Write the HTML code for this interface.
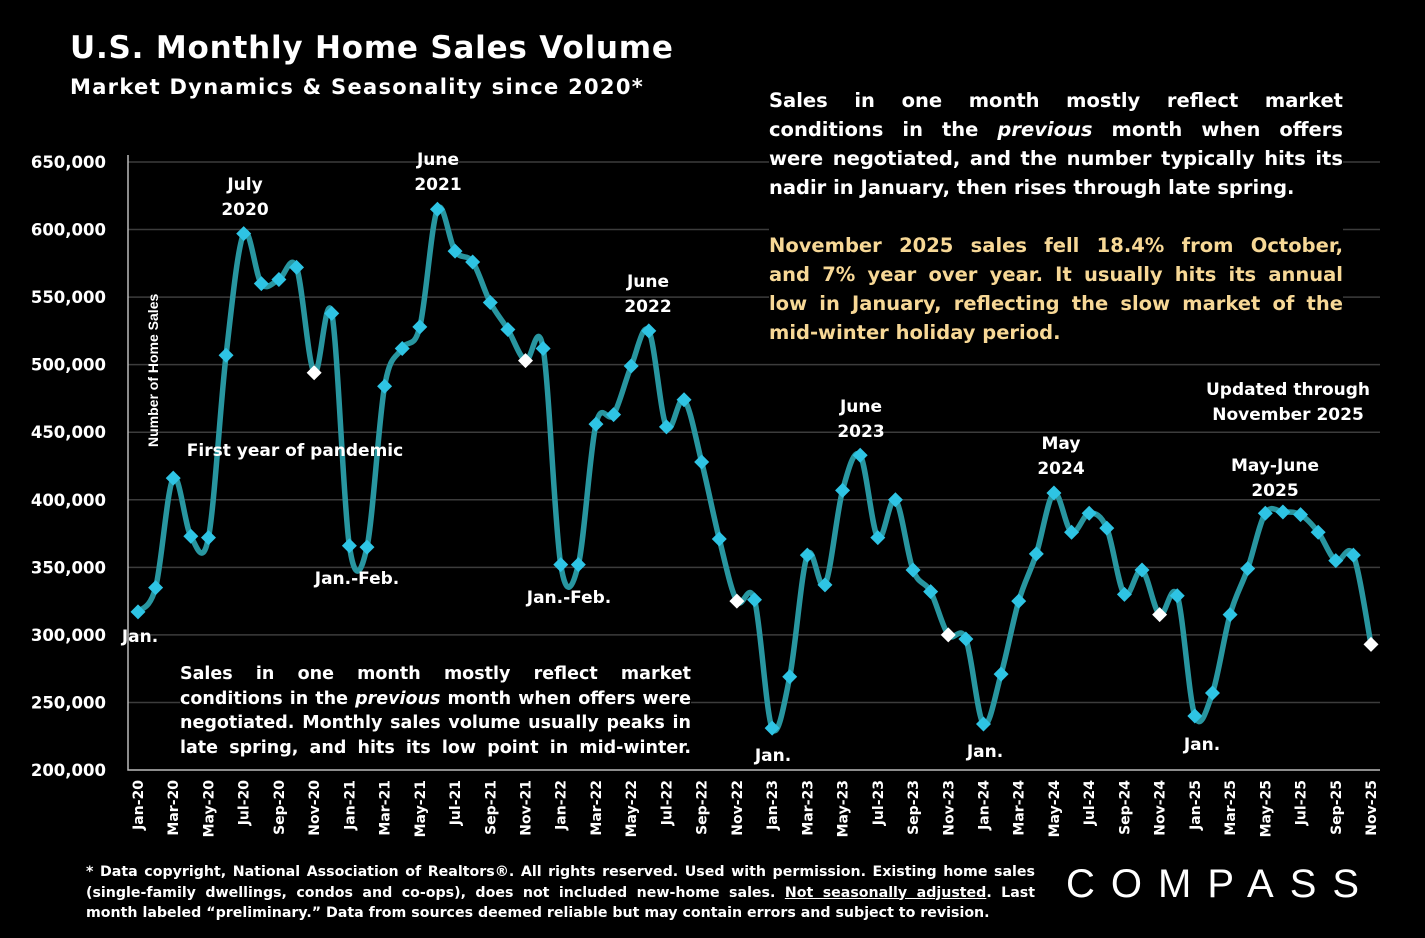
<!DOCTYPE html>
<html><head><meta charset="utf-8">
<style>
body{margin:0;background:#000;width:1425px;height:938px;overflow:hidden;font-family:"Liberation Sans",sans-serif;color:#fff;position:relative}
.t{position:absolute;font-weight:bold}
.p{font-family:"DejaVu Sans",sans-serif}
.j{text-align:justify;text-align-last:justify;white-space:nowrap}
.l{text-align:left;white-space:nowrap}
</style></head><body>
<div class="t" style="left:70px;top:30px;font-size:31px;font-family:'DejaVu Sans',sans-serif;letter-spacing:0.8px">U.S. Monthly Home Sales Volume</div>
<div class="t" style="left:70px;top:75px;font-size:21px;font-family:'DejaVu Sans',sans-serif;letter-spacing:1.3px">Market Dynamics &amp; Seasonality since 2020*</div>
<svg id="chart" width="1425" height="938" style="position:absolute;left:0;top:0"></svg>
<div class="t p" style="left:769px;top:86px;width:574px;font-size:19.5px;line-height:29px;background:#000">
<div class="j">Sales in one month mostly reflect market</div>
<div class="j">conditions in the <i>previous</i> month when offers</div>
<div class="j">were negotiated, and the number typically hits its</div>
<div class="l">nadir in January, then rises through late spring.</div>
<div style="height:29px"></div>
<div style="color:#f7d896">
<div class="j">November 2025 sales fell 18.4% from October,</div>
<div class="j">and 7% year over year. It usually hits its annual</div>
<div class="j">low in January, reflecting the slow market of the</div>
<div class="l">mid-winter holiday period.</div></div></div>
<div class="t p" style="left:180px;top:662px;width:511px;font-size:17.5px;line-height:24.5px;background:#000">
<div class="j">Sales in one month mostly reflect market</div>
<div class="j">conditions in the <i>previous</i> month when offers were</div>
<div class="j">negotiated. Monthly sales volume usually peaks in</div>
<div class="j">late spring, and hits its low point in mid-winter.</div></div>
<div class="t p" style="left:86px;top:862px;width:949px;font-size:14.2px;line-height:20.5px">
<div class="j">* Data copyright, National Association of Realtors®. All rights reserved. Used with permission. Existing home sales</div>
<div class="j">(single-family dwellings, condos and co-ops), does not included new-home sales. <u>Not seasonally adjusted</u>. Last</div>
<div class="l">month labeled “preliminary.” Data from sources deemed reliable but may contain errors and subject to revision.</div></div>
<div class="t" style="left:1066px;top:862px;font-size:40px;font-weight:normal;letter-spacing:16px">COMPASS</div>
<script>
const categories=["Jan-20","Feb-20","Mar-20","Apr-20","May-20","Jun-20","Jul-20","Aug-20","Sep-20","Oct-20","Nov-20","Dec-20","Jan-21","Feb-21","Mar-21","Apr-21","May-21","Jun-21","Jul-21","Aug-21","Sep-21","Oct-21","Nov-21","Dec-21","Jan-22","Feb-22","Mar-22","Apr-22","May-22","Jun-22","Jul-22","Aug-22","Sep-22","Oct-22","Nov-22","Dec-22","Jan-23","Feb-23","Mar-23","Apr-23","May-23","Jun-23","Jul-23","Aug-23","Sep-23","Oct-23","Nov-23","Dec-23","Jan-24","Feb-24","Mar-24","Apr-24","May-24","Jun-24","Jul-24","Aug-24","Sep-24","Oct-24","Nov-24","Dec-24","Jan-25","Feb-25","Mar-25","Apr-25","May-25","Jun-25","Jul-25","Aug-25","Sep-25","Oct-25","Nov-25"];
const sales=[317000,335000,416000,373000,372000,507000,597000,560000,563000,572000,494000,538000,366000,365000,484000,512000,528000,615000,584000,576000,546000,526000,503000,512000,352000,352000,456000,463000,499000,525000,454000,474000,428000,371000,325000,326000,231000,269000,359000,337000,407000,433000,372000,400000,348000,332000,300000,297000,234000,271000,325000,360000,405000,376000,390000,379000,330000,348000,315000,329000,240000,257000,315000,349000,390000,391000,389000,376000,355000,359000,293000];
const highlighted=["Nov-20","Nov-21","Nov-22","Nov-23","Nov-24","Nov-25"];
const yTicks=[200000,250000,300000,350000,400000,450000,500000,550000,600000,650000];
const annotations=[["Jan.",140,642],["July",245,190],["2020",245,215],["June",438,165],["2021",438,190],["First year of pandemic",295,456],["Jan.-Feb.",357,584],["June",648,287],["2022",648,312],["Jan.-Feb.",569,603],["Jan.",773,761],["June",861,412],["2023",861,437],["Jan.",985,757],["May",1061,449],["2024",1061,474],["Jan.",1202,750],["Updated through",1288,395],["November 2025",1288,420],["May-June",1275,471],["2025",1275,496]];
const svg=document.getElementById('chart');const NS='http://www.w3.org/2000/svg';
const FF="'DejaVu Sans',sans-serif";
const X0=138,X1=1371,Y0=770,Y1=162,YMIN=200000,YMAX=650000;
const x=i=>X0+(X1-X0)*i/(categories.length-1);
const y=v=>Y0-(v-YMIN)/(YMAX-YMIN)*(Y0-Y1);
function mk(t,a){const e=document.createElementNS(NS,t);for(const k in a)e.setAttribute(k,a[k]);svg.appendChild(e);return e;}
yTicks.forEach(v=>{
 if(v>YMIN){const g=mk('line',{x1:128,x2:1380,y1:y(v),y2:y(v),stroke:'#3c3c3c','stroke-width':1.5});
 
 }
 const t=mk('text',{x:106,y:y(v)+6,'text-anchor':'end',fill:'#fff','font-size':16.5,'font-weight':'bold','font-family':FF});t.textContent=v.toLocaleString('en-US');
 
 
});
const ax=mk('path',{d:`M128 155V${Y0}H1380`,stroke:'#bbb','stroke-width':1.5,fill:'none'});


const yt=mk('text',{transform:'translate(158,447) rotate(-90)',fill:'#fff','font-size':14,'font-weight':'bold','font-family':'Liberation Sans'});yt.textContent='Number of Home Sales';


categories.forEach((c,i)=>{
 if(i%2==0){const t=mk('text',{transform:`translate(${x(i)+5},780) rotate(-90)`,'text-anchor':'end',fill:'#fff','font-size':14,'font-weight':'bold','font-family':FF});t.textContent=c;
 
 }
});
const P=sales.map((v,i)=>[x(i),y(v)]);
let d=`M${P[0][0]},${P[0][1]}`;
for(let i=0;i<P.length-1;i++){const p0=P[Math.max(0,i-1)],p1=P[i],p2=P[i+1],p3=P[Math.min(P.length-1,i+2)];
 d+=`C${p1[0]+(p2[0]-p0[0])/6},${p1[1]+(p2[1]-p0[1])/6} ${p2[0]-(p3[0]-p1[0])/6},${p2[1]-(p3[1]-p1[1])/6} ${p2[0]},${p2[1]}`;}
const ln=mk('path',{d:d,stroke:'#2896a0','stroke-width':5.5,fill:'none'});


sales.forEach((v,i)=>{const cx=x(i),cy=y(v),s=7.5;
 const m=mk('polygon',{points:`${cx},${cy-s} ${cx+s},${cy} ${cx},${cy+s} ${cx-s},${cy}`,fill:highlighted.includes(categories[i])?'#fff':'#2ec4e4'});
 
 
});
annotations.forEach(a=>{const t=mk('text',{x:a[1],y:a[2],'text-anchor':'middle',fill:'#fff','font-size':17,'font-weight':'bold','font-family':FF});t.textContent=a[0];
 
 });
</script>
</body></html>
